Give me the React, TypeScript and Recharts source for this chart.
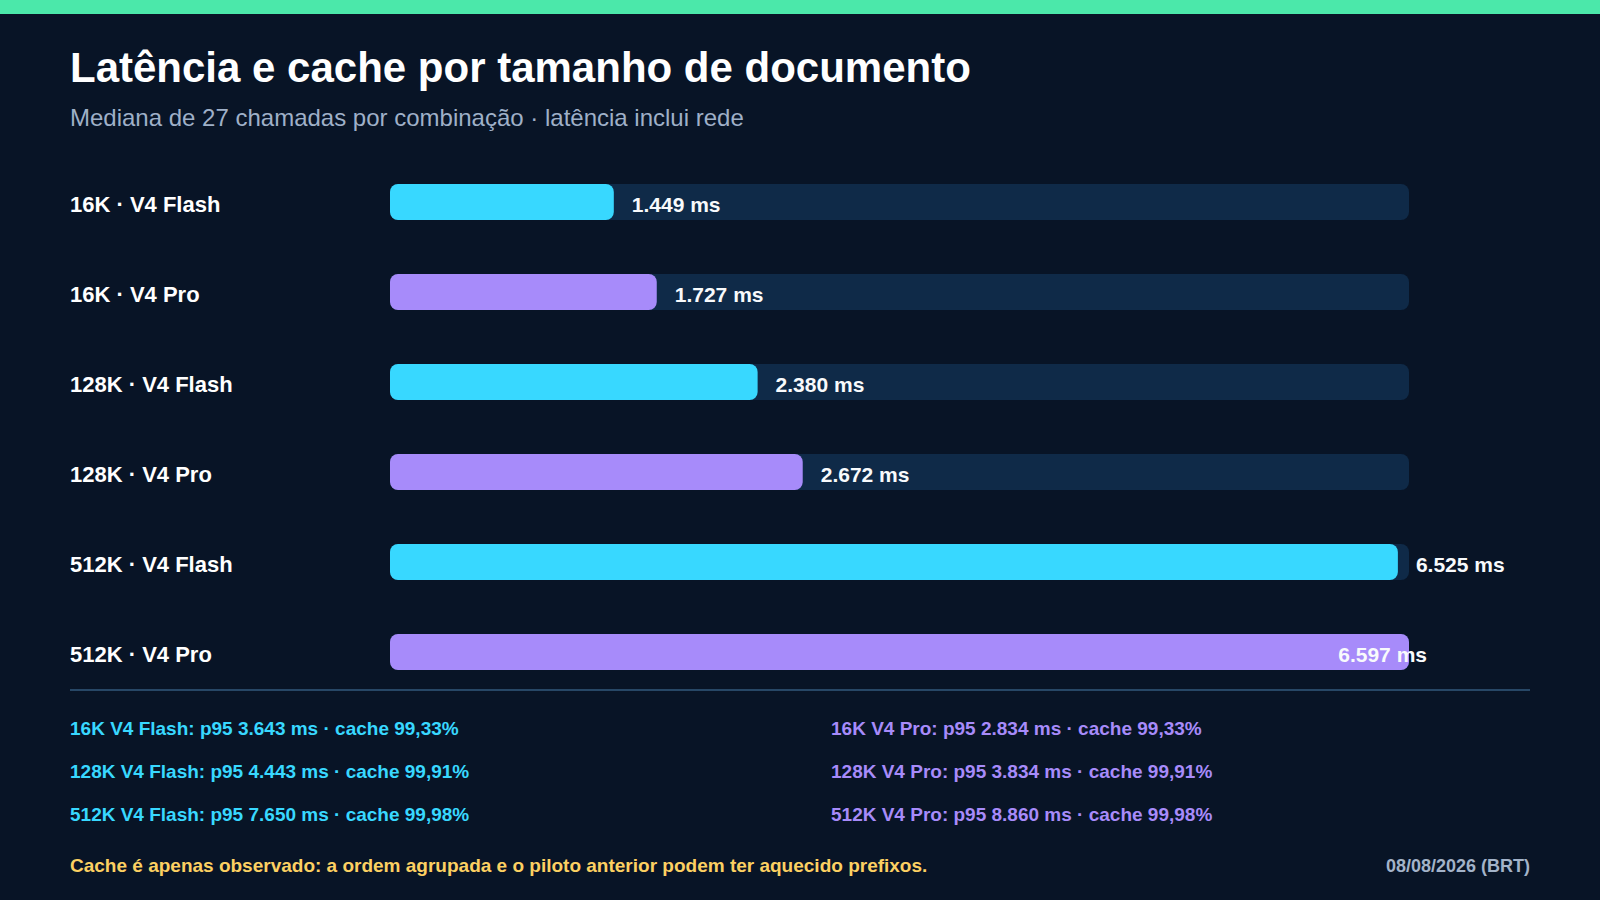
import React from "react";
import { BarChart, Bar, XAxis, YAxis, Cell, LabelList } from "recharts";

const sizes = ["16K", "16K", "128K", "128K", "512K", "512K"];
const models = ["V4 Flash", "V4 Pro", "V4 Flash", "V4 Pro", "V4 Flash", "V4 Pro"];
const medianMs = [1449, 1727, 2380, 2672, 6525, 6597];
const p95Ms = [3643, 2834, 4443, 3834, 7650, 8860];
const cachePct = [99.33, 99.33, 99.91, 99.91, 99.98, 99.98];

const CYAN = "#38d8ff";
const PURPLE = "#a78bfa";
const BG = "#081426";
const TRACK = "#0f2a48";
const FONT = "'Liberation Sans', Arial, Helvetica, sans-serif";

// pt-BR style: 1449 -> "1.449", 99.33 -> "99,33"
const fmtMs = (v: number) => String(v).replace(/\B(?=(\d{3})+(?!\d))/g, ".");
const fmtPct = (v: number) => v.toFixed(2).replace(".", ",");

const data = sizes.map((s, i) => ({
  label: `${s} · ${models[i]}`,
  value: medianMs[i],
  color: models[i].includes("Flash") ? CYAN : PURPLE,
}));
const maxValue = Math.max(...medianMs);

const stats = sizes.map(
  (s, i) => `${s} ${models[i]}: p95 ${fmtMs(p95Ms[i])} ms · cache ${fmtPct(cachePct[i])}%`
);
const flashStats = stats.filter((_, i) => models[i].includes("Flash"));
const proStats = stats.filter((_, i) => models[i].includes("Pro"));

const CategoryTick = (props: any) => {
  const { y, payload } = props;
  return (
    <text x={70} y={y + 10} textAnchor="start" fill="#ffffff" fontSize={22} fontWeight={700} fontFamily={FONT}>
      {payload.value}
    </text>
  );
};

const ValueLabel = (props: any) => {
  const { x, y, width, height, value } = props;
  const end = x + width + 18;
  const isMax = value === maxValue;
  return (
    <text
      x={end}
      y={y + height / 2 + 10}
      textAnchor={isMax ? "end" : "start"}
      fill="#f8fafc"
      fontSize={21}
      fontWeight={700}
      fontFamily={FONT}
    >
      {`${fmtMs(value)} ms`}
    </text>
  );
};

export default function App() {
  return (
    <div
      style={{
        position: "fixed",
        top: 0,
        left: 0,
        width: 1600,
        height: 900,
        background: BG,
        overflow: "hidden",
        fontFamily: FONT,
      }}
    >
      <svg width={1600} height={900} style={{ position: "absolute", left: 0, top: 0 }}>
        <rect x={0} y={0} width={1600} height={14} fill="#4be8aa" />
        <text x={70} y={82} fill="#ffffff" fontSize={42} fontWeight={700} fontFamily={FONT}>
          Latência e cache por tamanho de documento
        </text>
        <text x={70} y={126} fill="#9fb0c8" fontSize={24} fontFamily={FONT}>
          Mediana de 27 chamadas por combinação · latência inclui rede
        </text>
        <rect x={70} y={689} width={1460} height={2} fill="#274766" />
        {flashStats.map((t, i) => (
          <text key={"f" + i} x={70} y={735 + i * 43} fill={CYAN} fontSize={19} fontWeight={700} fontFamily={FONT}>
            {t}
          </text>
        ))}
        {proStats.map((t, i) => (
          <text key={"p" + i} x={831} y={735 + i * 43} fill={PURPLE} fontSize={19} fontWeight={700} fontFamily={FONT}>
            {t}
          </text>
        ))}
        <text x={70} y={872} fill="#fcd062" fontSize={19} fontWeight={700} fontFamily={FONT}>
          Cache é apenas observado: a ordem agrupada e o piloto anterior podem ter aquecido prefixos.
        </text>
        <text x={1530} y={872} textAnchor="end" fill="#a3b3c9" fontSize={18} fontWeight={700} fontFamily={FONT}>
          08/08/2026 (BRT)
        </text>
      </svg>
      <div style={{ position: "absolute", left: 0, top: 0 }}>
        <BarChart
          width={1600}
          height={900}
          layout="vertical"
          data={data}
          margin={{ top: 157, right: 191, bottom: 203, left: 70 }}
        >
          <XAxis type="number" hide domain={[0, "dataMax"]} />
          <YAxis
            type="category"
            dataKey="label"
            width={320}
            axisLine={false}
            tickLine={false}
            tick={<CategoryTick />}
            interval={0}
          />
          <Bar
            dataKey="value"
            barSize={36}
            radius={8}
            background={{ fill: TRACK, radius: 8 }}
            isAnimationActive={false}
          >
            {data.map((d, i) => (
              <Cell key={i} fill={d.color} />
            ))}
            <LabelList dataKey="value" content={<ValueLabel />} />
          </Bar>
        </BarChart>
      </div>
    </div>
  );
}
